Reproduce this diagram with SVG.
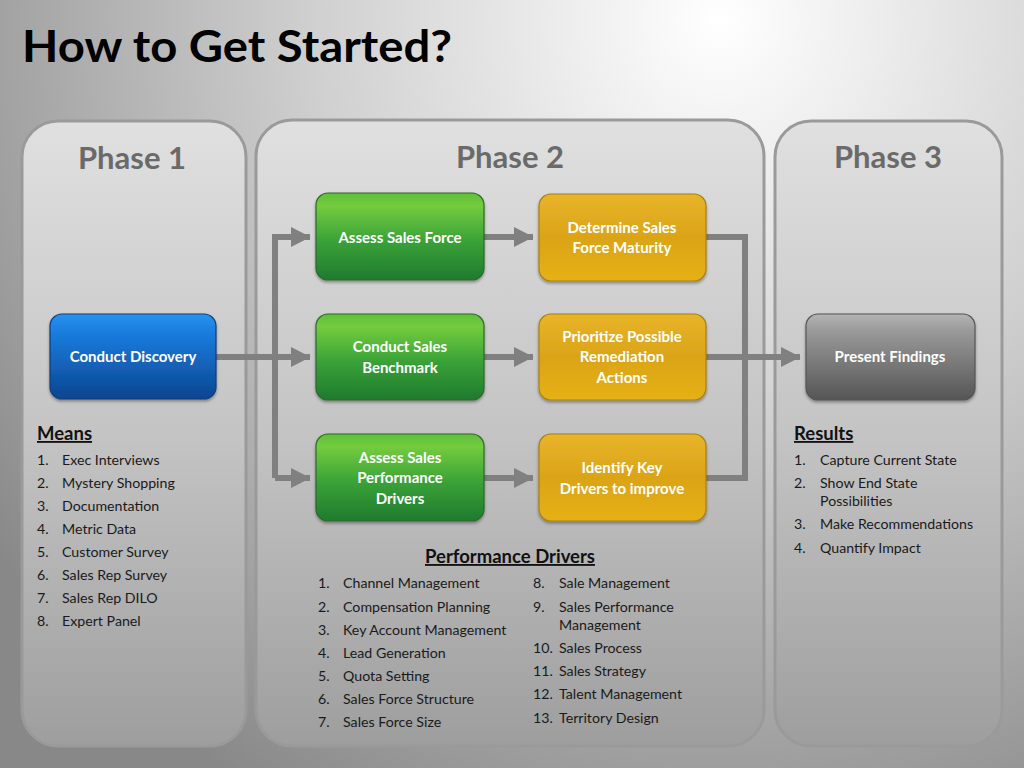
<svg xmlns="http://www.w3.org/2000/svg" width="1024" height="768" viewBox="0 0 1024 768">
<defs>
<radialGradient id="bg" cx="720" cy="20" r="900" gradientUnits="userSpaceOnUse">
<stop offset="0" stop-color="#ffffff"/>
<stop offset="0.45" stop-color="#d0d0d0"/>
<stop offset="1" stop-color="#888888"/>
</radialGradient>
<linearGradient id="panel" x1="0" y1="0" x2="0" y2="1">
<stop offset="0" stop-color="#e0e0e0"/>
<stop offset="0.5" stop-color="#c4c4c4"/>
<stop offset="1" stop-color="#9e9e9e"/>
</linearGradient>
<linearGradient id="green" x1="0" y1="0" x2="0" y2="1">
<stop offset="0" stop-color="#5fbf3a"/>
<stop offset="0.15" stop-color="#74cc3e"/>
<stop offset="0.55" stop-color="#3aa238"/>
<stop offset="1" stop-color="#1f7a2e"/>
</linearGradient>
<linearGradient id="gold" x1="0" y1="0" x2="0" y2="1">
<stop offset="0" stop-color="#e8b42a"/>
<stop offset="0.5" stop-color="#dba418"/>
<stop offset="1" stop-color="#e6b018"/>
</linearGradient>
<linearGradient id="blue" x1="0" y1="0" x2="0" y2="1">
<stop offset="0" stop-color="#2a92f0"/>
<stop offset="0.2" stop-color="#1a7ee0"/>
<stop offset="1" stop-color="#0c4590"/>
</linearGradient>
<linearGradient id="gray" x1="0" y1="0" x2="0" y2="1">
<stop offset="0" stop-color="#b4b4b4"/>
<stop offset="0.2" stop-color="#999999"/>
<stop offset="1" stop-color="#555555"/>
</linearGradient>
<filter id="sh" x="-10%" y="-10%" width="120%" height="130%">
<feDropShadow dx="0" dy="2" stdDeviation="1.5" flood-color="#000" flood-opacity="0.35"/>
</filter>
<marker id="ah" markerWidth="4" markerHeight="4" refX="3.2" refY="2" orient="auto" markerUnits="strokeWidth">
<path d="M0,0.3 L3.3,2 L0,3.7 Z" fill="#808080"/>
</marker>
<style>
.title{font-family:Lato,"Open Sans",sans-serif;font-weight:bold;font-size:43px;fill:#000}
.phase{font-family:Lato,"Open Sans",sans-serif;font-weight:bold;font-size:31px;fill:#6a6a6a;text-anchor:middle}
.pan{fill:url(#panel);stroke:#9a9a9a;stroke-width:3}
.node{stroke-width:1.2;filter:url(#sh)}
.nt{font-family:Lato,"Open Sans",sans-serif;font-weight:bold;font-size:15px;fill:#ffffff;text-anchor:middle}
.hd{font-family:Lato,"Open Sans",sans-serif;font-weight:bold;font-size:18.5px;fill:#111;text-decoration:underline}
.li{font-family:Lato,"Open Sans",sans-serif;font-size:14.2px;fill:#1a1a1a}
.con{fill:none;stroke:#808080;stroke-width:6}
</style>
</defs>
<rect width="1024" height="768" fill="url(#bg)"/>
<text class="title" x="22" y="62" textLength="430" lengthAdjust="spacingAndGlyphs">How to Get Started?</text>

<g id="phase1">
<rect class="pan" x="22" y="121" width="224" height="625" rx="36"/>
<text class="phase" x="132" y="169">Phase 1</text>
</g>
<g id="phase2">
<rect class="pan" x="256" y="120" width="508" height="626" rx="36"/>
<text class="phase" x="510" y="168">Phase 2</text>
</g>
<g id="phase3">
<rect class="pan" x="775" y="121" width="227" height="625" rx="36"/>
<text class="phase" x="888" y="168">Phase 3</text>
</g>

<g id="connectors">
<path class="con" d="M216,357 L310,357" marker-end="url(#ah)"/>
<path class="con" d="M275,478 L275,237 L310,237" marker-end="url(#ah)"/>
<path class="con" d="M275,478 L310,478" marker-end="url(#ah)"/>
<path class="con" d="M484,237 L533,237" marker-end="url(#ah)"/>
<path class="con" d="M484,357 L533,357" marker-end="url(#ah)"/>
<path class="con" d="M484,478 L533,478" marker-end="url(#ah)"/>
<path class="con" d="M706,237 L745,237 L745,478 L706,478"/>
<path class="con" d="M706,357 L800,357" marker-end="url(#ah)"/>
</g>

<g id="conduct-discovery">
<rect class="node" x="50" y="314" width="166" height="85" rx="12" fill="url(#blue)" stroke="#0d3f80"/>
<text class="nt" x="133" y="362">Conduct Discovery</text>
</g>
<g id="assess-sales-force">
<rect class="node" x="316" y="193" width="168" height="87" rx="12" fill="url(#green)" stroke="#2a6a2a"/>
<text class="nt" x="400" y="243">Assess Sales Force</text>
</g>
<g id="determine-maturity">
<rect class="node" x="539" y="194" width="167" height="87" rx="12" fill="url(#gold)" stroke="#a88010"/>
<text class="nt" x="622" y="233">Determine Sales</text>
<text class="nt" x="622" y="253">Force Maturity</text>
</g>
<g id="conduct-benchmark">
<rect class="node" x="316" y="314" width="168" height="86" rx="12" fill="url(#green)" stroke="#2a6a2a"/>
<text class="nt" x="400" y="352">Conduct Sales</text>
<text class="nt" x="400" y="373">Benchmark</text>
</g>
<g id="prioritize-remediation">
<rect class="node" x="539" y="314" width="167" height="86" rx="12" fill="url(#gold)" stroke="#a88010"/>
<text class="nt" x="622" y="342">Prioritize Possible</text>
<text class="nt" x="622" y="362">Remediation</text>
<text class="nt" x="622" y="383">Actions</text>
</g>
<g id="assess-performance-drivers">
<rect class="node" x="316" y="434" width="168" height="87" rx="12" fill="url(#green)" stroke="#2a6a2a"/>
<text class="nt" x="400" y="463">Assess Sales</text>
<text class="nt" x="400" y="483">Performance</text>
<text class="nt" x="400" y="504">Drivers</text>
</g>
<g id="identify-key-drivers">
<rect class="node" x="539" y="434" width="167" height="87" rx="12" fill="url(#gold)" stroke="#a88010"/>
<text class="nt" x="622" y="473">Identify Key</text>
<text class="nt" x="622" y="494">Drivers to improve</text>
</g>
<g id="present-findings">
<rect class="node" x="806" y="314" width="169" height="86" rx="12" fill="url(#gray)" stroke="#555555"/>
<text class="nt" x="890" y="362">Present Findings</text>
</g>

<g id="means">
<text class="hd" x="37" y="440">Means</text>
<text class="li" x="37" y="465">1.</text><text class="li" x="62" y="465">Exec Interviews</text>
<text class="li" x="37" y="488">2.</text><text class="li" x="62" y="488">Mystery Shopping</text>
<text class="li" x="37" y="511">3.</text><text class="li" x="62" y="511">Documentation</text>
<text class="li" x="37" y="534">4.</text><text class="li" x="62" y="534">Metric Data</text>
<text class="li" x="37" y="557">5.</text><text class="li" x="62" y="557">Customer Survey</text>
<text class="li" x="37" y="580">6.</text><text class="li" x="62" y="580">Sales Rep Survey</text>
<text class="li" x="37" y="603">7.</text><text class="li" x="62" y="603">Sales Rep DILO</text>
<text class="li" x="37" y="626">8.</text><text class="li" x="62" y="626">Expert Panel</text>
</g>

<g id="performance-drivers">
<text class="hd" x="510" y="563" text-anchor="middle">Performance Drivers</text>
<text class="li" x="318" y="588">1.</text><text class="li" x="343" y="588">Channel Management</text>
<text class="li" x="318" y="612">2.</text><text class="li" x="343" y="612">Compensation Planning</text>
<text class="li" x="318" y="635">3.</text><text class="li" x="343" y="635">Key Account Management</text>
<text class="li" x="318" y="658">4.</text><text class="li" x="343" y="658">Lead Generation</text>
<text class="li" x="318" y="681">5.</text><text class="li" x="343" y="681">Quota Setting</text>
<text class="li" x="318" y="704">6.</text><text class="li" x="343" y="704">Sales Force Structure</text>
<text class="li" x="318" y="727">7.</text><text class="li" x="343" y="727">Sales Force Size</text>
<text class="li" x="533" y="588">8.</text><text class="li" x="559" y="588">Sale Management</text>
<text class="li" x="533" y="612">9.</text><text class="li" x="559" y="612">Sales Performance</text>
<text class="li" x="559" y="630">Management</text>
<text class="li" x="533" y="653">10.</text><text class="li" x="559" y="653">Sales Process</text>
<text class="li" x="533" y="676">11.</text><text class="li" x="559" y="676">Sales Strategy</text>
<text class="li" x="533" y="699">12.</text><text class="li" x="559" y="699">Talent Management</text>
<text class="li" x="533" y="723">13.</text><text class="li" x="559" y="723">Territory Design</text>
</g>

<g id="results">
<text class="hd" x="794" y="440">Results</text>
<text class="li" x="794" y="465">1.</text><text class="li" x="820" y="465">Capture Current State</text>
<text class="li" x="794" y="488">2.</text><text class="li" x="820" y="488">Show End State</text>
<text class="li" x="820" y="506">Possibilities</text>
<text class="li" x="794" y="529">3.</text><text class="li" x="820" y="529">Make Recommendations</text>
<text class="li" x="794" y="553">4.</text><text class="li" x="820" y="553">Quantify Impact</text>
</g>
</svg>
